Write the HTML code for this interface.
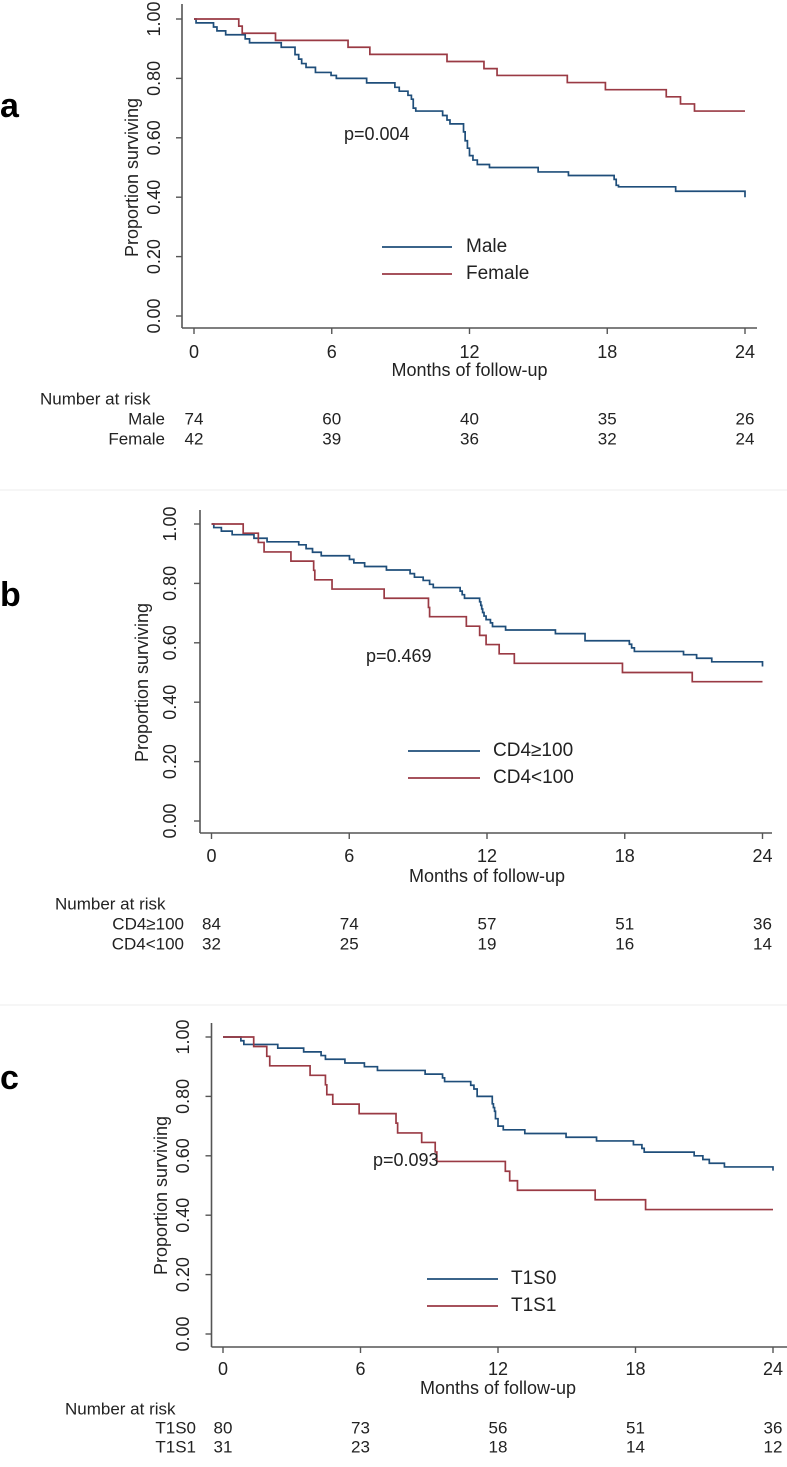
<!DOCTYPE html>
<html><head><meta charset="utf-8">
<style>
html,body{margin:0;padding:0;background:#fff;}
svg{display:block;font-family:"Liberation Sans Narrow","Liberation Sans",sans-serif;}
</style></head>
<body>
<svg id="fig" width="787" height="1467" viewBox="0 0 787 1467" xmlns="http://www.w3.org/2000/svg"></svg>
<script>
// ---- shared axis data ----
const xTicks = [0, 6, 12, 18, 24];
const yTicks = [0, 0.2, 0.4, 0.6, 0.8, 1.0];
const yTickLabels = ["0.00", "0.20", "0.40", "0.60", "0.80", "1.00"];

// ---- panel a ----
const aMaleT = [0.09,0.85,1.0,1.38,2.23,2.42,3.8,4.4,4.56,4.69,4.88,5.29,5.97,6.2,7.52,8.75,8.94,9.32,9.47,9.55,9.66,10.83,11.02,11.15,11.74,11.81,11.91,12.0,12.15,12.34,12.87,14.99,16.31,18.3,18.39,18.49,20.98,24];
const aMaleS = [0.987,0.973,0.96,0.947,0.933,0.92,0.905,0.88,0.865,0.85,0.837,0.82,0.81,0.80,0.785,0.77,0.757,0.743,0.73,0.70,0.69,0.675,0.66,0.647,0.62,0.59,0.565,0.54,0.525,0.51,0.50,0.485,0.473,0.46,0.44,0.435,0.42,0.40];
const aFemaleT = [1.95,2.1,3.55,6.71,7.66,11.02,12.63,13.2,16.26,17.92,20.57,21.19,21.8];
const aFemaleS = [0.976,0.952,0.928,0.905,0.881,0.857,0.833,0.81,0.786,0.762,0.738,0.714,0.69];
const aRiskMale = [74,60,40,35,26];
const aRiskFemale = [42,39,36,32,24];

// ---- panel b ----
const bHighT = [0.1,0.43,0.9,1.85,2.42,3.8,4.12,4.4,4.78,6.01,6.2,6.67,7.62,8.65,8.84,9.22,9.5,9.66,10.83,10.92,11.02,11.68,11.73,11.77,11.81,11.87,11.96,12.15,12.24,12.81,14.98,16.27,18.2,18.3,18.42,20.56,21.13,21.79,24];
const bHighS = [0.988,0.976,0.964,0.952,0.94,0.93,0.917,0.905,0.893,0.881,0.869,0.857,0.845,0.833,0.821,0.81,0.797,0.786,0.774,0.762,0.75,0.738,0.726,0.714,0.702,0.69,0.678,0.667,0.655,0.643,0.631,0.607,0.595,0.583,0.571,0.56,0.548,0.536,0.52];
const bLowT = [1.38,2.04,2.29,3.46,4.45,4.5,5.25,7.52,9.45,9.5,11.1,11.68,11.96,12.53,13.19,17.9,20.94];
const bLowS = [0.969,0.938,0.906,0.875,0.844,0.812,0.781,0.75,0.719,0.688,0.656,0.625,0.594,0.563,0.531,0.50,0.469];
const bRiskHigh = [84,74,57,51,36];
const bRiskLow = [32,25,19,16,14];

// ---- panel c ----
const cS0T = [0.78,0.91,2.39,3.52,4.28,4.47,5.32,6.17,6.74,8.82,9.58,9.67,10.81,10.95,11.09,11.75,11.8,11.85,11.89,12.0,12.23,13.17,14.97,16.3,17.91,18.28,18.38,20.56,20.94,21.22,21.88,24];
const cS0S = [0.9875,0.975,0.9625,0.95,0.9375,0.925,0.9125,0.9,0.8875,0.875,0.8625,0.85,0.8375,0.825,0.8,0.775,0.7625,0.75,0.725,0.7,0.6875,0.675,0.6625,0.65,0.6375,0.625,0.6125,0.6,0.5875,0.575,0.5625,0.55];
const cS1T = [1.34,1.91,2.04,3.8,4.47,4.53,4.79,5.94,7.55,7.62,8.67,9.26,9.33,12.32,12.51,12.85,16.24,18.44];
const cS1S = [0.968,0.935,0.903,0.871,0.839,0.806,0.774,0.742,0.71,0.677,0.645,0.613,0.581,0.548,0.516,0.484,0.452,0.419];
const cRiskS0 = [80,73,56,51,36];
const cRiskS1 = [31,23,18,14,12];

const BLUE = "#1f4e7a", RED = "#9a3a44", AX = "#555";
const svg = document.getElementById('fig');
const NS = "http://www.w3.org/2000/svg";
function mk(tag, attrs, parent, text){
  const e = document.createElementNS(NS, tag);
  for (const k in attrs) e.setAttribute(k, attrs[k]);
  if (text !== undefined) e.textContent = text;
  (parent || svg).appendChild(e);
  return e;
}

function panel(L, series, riskLabels, riskRows, pText, letter, name){
  const g = mk('g', {});
  
  
  const xs = m => L.x0 + (m / 24) * (L.x24 - L.x0);
  const ys = v => L.y0 - v * (L.y0 - L.y1);
  if (L.topLine) {
    const tl = mk('line', {x1:0, x2:787, y1:L.topLine, y2:L.topLine, stroke:'#eee', 'stroke-width':1}, g);
    
    
  }
  const lt = mk('text', {x:L.letterX, y:L.letterY, 'font-size':34, 'font-weight':'bold', 'font-family':'Liberation Sans, sans-serif', 'dominant-baseline':'middle'}, g, letter);
  
  
  const ya = mk('line', {x1:L.ax, x2:L.ax, y1:L.axTop, y2:L.bottom, stroke:AX, 'stroke-width':1.6}, g);
  
  
  const xa = mk('line', {x1:L.ax, x2:L.right, y1:L.bottom, y2:L.bottom, stroke:AX, 'stroke-width':1.6}, g);
  
  
  yTicks.forEach((v, i) => {
    const y = ys(v);
    const t = mk('line', {x1:L.ax - 6, x2:L.ax, y1:y, y2:y, stroke:AX, 'stroke-width':1.4}, g);
    
    
    const tx = mk('text', {x:0, y:0, 'font-size':18, fill:'#222', 'text-anchor':'middle', 'dominant-baseline':'middle', transform:`translate(${L.ytx},${y}) rotate(-90)`}, g, yTickLabels[i]);
    
    
  });
  xTicks.forEach(m => {
    const x = xs(m);
    const t = mk('line', {x1:x, x2:x, y1:L.bottom, y2:L.bottom + 6, stroke:AX, 'stroke-width':1.4}, g);
    
    
    const tx = mk('text', {x:x, y:L.xtl, 'font-size':18, fill:'#222', 'text-anchor':'middle', 'dominant-baseline':'middle'}, g, String(m));
    
    
  });
  const yt = mk('text', {x:0, y:0, 'font-size':18, fill:'#222', 'text-anchor':'middle', 'dominant-baseline':'middle', transform:`translate(${L.ylx},${(L.y0 + L.y1) / 2 + 10}) rotate(-90)`}, g, 'Proportion surviving');
  
  
  const xt = mk('text', {x:(L.x0 + L.x24) / 2, y:L.xtitle, 'font-size':18, fill:'#222', 'text-anchor':'middle', 'dominant-baseline':'middle'}, g, 'Months of follow-up');
  
  
  series.forEach((s, k) => {
    let d = `M${xs(0)},${ys(1)}`;
    for (let i = 0; i < s.t.length; i++) {
      d += ` H${xs(s.t[i])} V${ys(s.s[i])}`;
    }
    d += ` H${xs(24)}`;
    const p = mk('path', {d:d, fill:'none', stroke:s.color, 'stroke-width':1.7}, g);
    
    
    const ly = k === 0 ? L.leg1 : L.leg2;
    const ll = mk('line', {x1:L.legX1, x2:L.legX2, y1:ly, y2:ly, stroke:s.color, 'stroke-width':1.8}, g);
    
    
    const lx = mk('text', {x:L.legT, y:ly, 'font-size':19, fill:'#222', 'dominant-baseline':'middle'}, g, s.label);
    
    
  });
  const pt = mk('text', {x:L.pX, y:L.pY, 'font-size':18, fill:'#222', 'dominant-baseline':'middle'}, g, pText);
  
  
  const nr = mk('text', {x:L.nrX, y:L.r0, 'font-size':17, fill:'#222', 'dominant-baseline':'middle'}, g, 'Number at risk');
  
  
  riskRows.forEach((row, r) => {
    const y = L.r0 + (r + 1) * L.rStep;
    const lab = mk('text', {x:L.rLabR, y:y, 'font-size':17, fill:'#222', 'text-anchor':'end', 'dominant-baseline':'middle'}, g, riskLabels[r]);
    
    
    row.forEach((n, i) => {
      const c = mk('text', {x:xs(xTicks[i]), y:y, 'font-size':17, fill:'#222', 'text-anchor':'middle', 'dominant-baseline':'middle'}, g, String(n));
      
      
    });
  });
}

panel({x0:194, x24:745, y1:19, y0:316, ax:182, axTop:4, bottom:328, right:757, ytx:155, ylx:133, xtl:353, xtitle:371,
  legX1:382, legX2:452, legT:466, leg1:247, leg2:274, pX:344, pY:135, nrX:40, r0:400, rStep:20, rLabR:165, letterX:0, letterY:108},
  [{key:'male', t:aMaleT, s:aMaleS, color:BLUE, label:'Male'},{key:'female', t:aFemaleT, s:aFemaleS, color:RED, label:'Female'}],
  ['Male','Female'], [aRiskMale, aRiskFemale], 'p=0.004', 'a', 'panel-a');

panel({x0:211.5, x24:762.5, y1:524, y0:821, ax:200, axTop:510, bottom:833, right:772, ytx:171, ylx:143, xtl:857, xtitle:877,
  legX1:408, legX2:480, legT:493, leg1:751, leg2:778, pX:366, pY:657, nrX:55, r0:905, rStep:20, rLabR:184, letterX:0, letterY:597, topLine:490},
  [{key:'cd4-high', t:bHighT, s:bHighS, color:BLUE, label:'CD4\u2265100'},{key:'cd4-low', t:bLowT, s:bLowS, color:RED, label:'CD4<100'}],
  ['CD4\u2265100','CD4<100'], [bRiskHigh, bRiskLow], 'p=0.469', 'b', 'panel-b');

panel({x0:223, x24:773, y1:1037, y0:1334, ax:211.5, axTop:1023, bottom:1347, right:787, ytx:184, ylx:162, xtl:1370, xtitle:1389,
  legX1:427, legX2:498, legT:511, leg1:1279, leg2:1306, pX:373, pY:1161, nrX:65, r0:1410, rStep:19, rLabR:196, letterX:0, letterY:1080, topLine:1005},
  [{key:'t1s0', t:cS0T, s:cS0S, color:BLUE, label:'T1S0'},{key:'t1s1', t:cS1T, s:cS1S, color:RED, label:'T1S1'}],
  ['T1S0','T1S1'], [cRiskS0, cRiskS1], 'p=0.093', 'c', 'panel-c');
</script>
</body></html>
